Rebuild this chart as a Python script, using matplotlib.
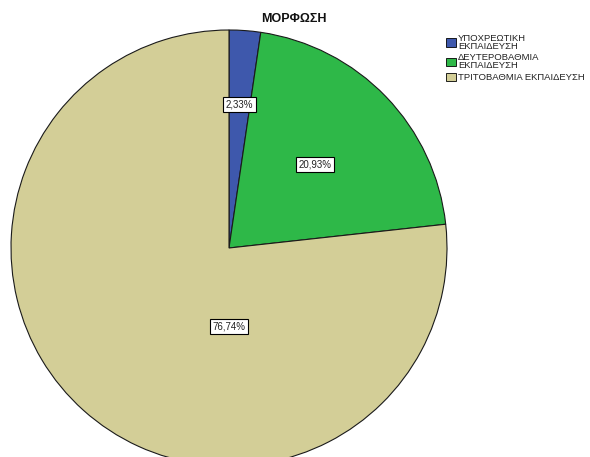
import matplotlib
matplotlib.use("Agg")
import matplotlib.pyplot as plt
import numpy as np
from matplotlib.patches import Patch

plt.rcParams['font.family'] = ['Liberation Sans', 'DejaVu Sans']

categories = ["ΥΠΟΧΡΕΩΤΙΚΗ\nΕΚΠΑΙΔΕΥΣΗ", "ΔΕΥΤΕΡΟΒΑΘΜΙΑ\nΕΚΠΑΙΔΕΥΣΗ", "ΤΡΙΤΟΒΑΘΜΙΑ ΕΚΠΑΙΔΕΥΣΗ"]
values = [2.33, 20.93, 76.74]
labels = ["2,33%", "20,93%", "76,74%"]
colors = ["#3E58AC", "#2EB848", "#D3CE97"]
title = "ΜΟΡΦΩΣΗ"

W, H = 590, 457
fig = plt.figure(figsize=(W/100, H/100), dpi=100)
ax = fig.add_axes([0, 0, 1, 1])

cx, cy, R = 229, -248, 218
wedges, _ = ax.pie(values, colors=colors, startangle=90, counterclock=False,
                   center=(cx, cy), radius=R, frame=True,
                   wedgeprops=dict(edgecolor="#1a1a1a", linewidth=0.8))
ax.set_xlim(0, W)
ax.set_ylim(-H, 0)
ax.set_aspect('equal')
ax.axis('off')

# label radial fractions (SPSS-like placement)
fracs = [0.66, 0.55, 0.36]
for w, lab, f in zip(wedges, labels, fracs):
    ang = np.deg2rad((w.theta1 + w.theta2) / 2)
    x = cx + f * R * np.cos(ang)
    y = cy + f * R * np.sin(ang)
    if lab == labels[2]:
        x, y = cx, cy - f * R
    ax.text(x, y, lab, ha='center', va='center', fontsize=7, color='#222222',
            bbox=dict(boxstyle='square,pad=0.25', fc='white', ec='black', lw=0.8))

fig.text(261/W, 1 - 19/H, title, ha='left', va='center', fontsize=9,
         fontweight='bold', color='#111111')

handles = [Patch(facecolor=c, edgecolor='black', linewidth=0.6) for c in colors]
leg = fig.legend(handles, categories, loc='upper left', bbox_to_anchor=(446/W, 1 - 34/H),
                 frameon=False, fontsize=6.8, handlelength=1.05, handleheight=1.05,
                 handletextpad=0.2, labelspacing=0.25, borderaxespad=0, borderpad=0)
for t in leg.get_texts():
    t.set_linespacing(0.85)
    t.set_color('#222222')

fig.savefig("out.png", dpi=100, facecolor='white')
